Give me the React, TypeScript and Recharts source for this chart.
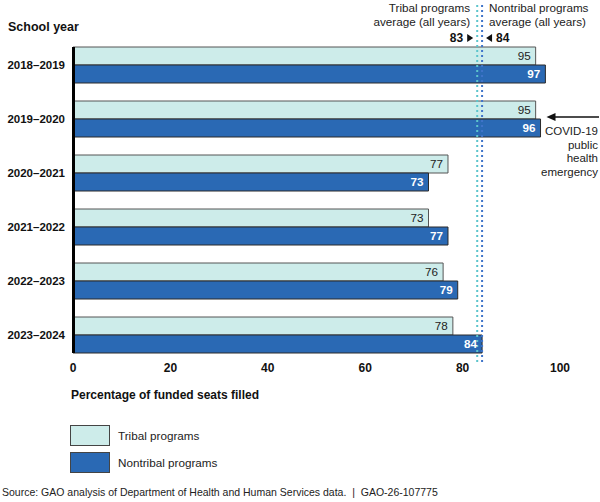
import React from 'react';
import { BarChart, Bar, XAxis, YAxis, ReferenceLine, LabelList } from 'recharts';

const years = ['2018–2019', '2019–2020', '2020–2021', '2021–2022', '2022–2023', '2023–2024'];
const tribal = [95, 95, 77, 73, 76, 78];
const nontribal = [97, 96, 73, 77, 79, 84];
const xTicks = [0, 20, 40, 60, 80, 100];
const tribalAvg = 83;
const nontribalAvg = 84;
const covidYear = '2019–2020';

const TRIBAL_FILL = '#cdecea';
const NONTRIBAL_FILL = '#2a69b4';
const TRIBAL_LINE = '#5cc5cc';
const NONTRIBAL_LINE = '#3f74c9';
const FONT = '"Liberation Sans", Arial, sans-serif';

const data = years.map((year, i) => ({ year, tribal: tribal[i], nontribal: nontribal[i] }));

const legendItems = [
  { name: 'Tribal programs', fill: TRIBAL_FILL },
  { name: 'Nontribal programs', fill: NONTRIBAL_FILL },
];

// category tick plus the black axis segment that runs from first bar top to last bar bottom
const YTick = (props: any) => {
  const { x, y, payload, index } = props;
  const half = 27;
  const bar = 18;
  const top = index === 0 ? y - bar : y - half;
  const bottom = index === years.length - 1 ? y + bar : y + half;
  return (
    <g>
      <line x1={x + 7.5} x2={x + 7.5} y1={top} y2={bottom} stroke="#000" strokeWidth={3} />
      <text x={x - 1} y={y} dy="0.35em" textAnchor="end" fontSize={11.5} fontWeight={700} fill="#111" fontFamily={FONT}>
        {payload.value}
      </text>
    </g>
  );
};

const XTick = (props: any) => {
  const { x, y, payload } = props;
  return (
    <text x={x} y={y} dy="0.71em" textAnchor="middle" fontSize={12} fontWeight={700} fill="#111" fontFamily={FONT}>
      {payload.value}
    </text>
  );
};

const TribalAvgLabel = (props: any) => {
  const { viewBox } = props;
  const x = viewBox.x;
  return (
    <g fontFamily={FONT} fontSize={11.7} fill="#222">
      <text x={x - 7} y={12} textAnchor="end">Tribal programs</text>
      <text x={x - 7} y={26} textAnchor="end">average (all years)</text>
      <text x={x - 14} y={42} textAnchor="end" fontWeight={700} fontSize={12} fill="#111">{tribalAvg}</text>
      <path d={`M${x - 10} ${34} L${x - 4} ${38} L${x - 10} ${42} Z`} fill="#111" />
    </g>
  );
};

const NontribalAvgLabel = (props: any) => {
  const { viewBox } = props;
  const x = viewBox.x;
  return (
    <g fontFamily={FONT} fontSize={11.7} fill="#222">
      <text x={x + 7} y={12}>Nontribal programs</text>
      <text x={x + 7} y={26}>average (all years)</text>
      <path d={`M${x + 10} ${34} L${x + 4} ${38} L${x + 10} ${42} Z`} fill="#111" />
      <text x={x + 14} y={42} fontWeight={700} fontSize={12} fill="#111">{nontribalAvg}</text>
    </g>
  );
};

const TribalValue = (props: any) => {
  const { x, y, width, height, value } = props;
  return (
    <text x={x + width - 5} y={y + height / 2} dy="0.36em" textAnchor="end" fontSize={11.7} fill="#222" fontFamily={FONT}>
      {value}
    </text>
  );
};

const NontribalValue = (props: any) => {
  const { x, y, width, height, value, index } = props;
  const endX = x + width;
  return (
    <g fontFamily={FONT}>
      <text x={endX - 5} y={y + height / 2} dy="0.36em" textAnchor="end" fontSize={11.7} fontWeight={700} fill="#fff">
        {value}
      </text>
      {years[index] === covidYear && (
        <g>
          <line x1={endX + 12} x2={599} y1={y - 2} y2={y - 2} stroke="#111" strokeWidth={1.5} />
          <path d={`M${endX + 6} ${y - 2} L${endX + 15} ${y - 6} L${endX + 15} ${y + 2} Z`} fill="#111" />
          <g fontSize={11.5} fill="#222" textAnchor="end">
            <text x={598} y={y + 16}>COVID-19</text>
            <text x={598} y={y + 30}>public</text>
            <text x={598} y={y + 43}>health</text>
            <text x={598} y={y + 57}>emergency</text>
          </g>
        </g>
      )}
    </g>
  );
};

export default function App() {
  return (
    <div style={{ position: 'relative', width: 600, height: 502, background: '#fff' }}>
      <style>{`body{margin:0}`}</style>
      <BarChart
        width={600}
        height={502}
        data={data}
        layout="vertical"
        margin={{ top: 5, right: 40, bottom: 110, left: 0 }}
        barCategoryGap={9}
        barGap={0}
      >
        <XAxis
          type="number"
          domain={[0, 100]}
          ticks={xTicks}
          axisLine={false}
          tickLine={false}
          tickSize={0}
          tickMargin={1}
          height={30}
          tick={<XTick />}
          label={{
            content: (p: any) => (
              <text x={71} y={p.viewBox.y + 37} fontSize={12} fontWeight={700} fill="#111" fontFamily={FONT}>
                Percentage of funded seats filled
              </text>
            ),
          }}
        />
        <YAxis
          type="category"
          dataKey="year"
          width={73}
          axisLine={false}
          tickLine={false}
          tickSize={0}
          tickMargin={7}
          padding={{ top: 33, bottom: 0 }}
          tick={<YTick />}
          label={{
            content: () => (
              <text x={8} y={31} fontSize={12.5} fontWeight={700} fill="#111" fontFamily={FONT}>
                School year
              </text>
            ),
          }}
        />
        <Bar dataKey="tribal" name="Tribal programs" fill={TRIBAL_FILL} stroke="#555" strokeWidth={1} isAnimationActive={false}>
          <LabelList dataKey="tribal" content={<TribalValue />} />
        </Bar>
        <Bar dataKey="nontribal" name="Nontribal programs" fill={NONTRIBAL_FILL} stroke="#2a2a2a" strokeWidth={1} isAnimationActive={false}>
          <LabelList dataKey="nontribal" content={<NontribalValue />} />
        </Bar>
        <ReferenceLine x={tribalAvg} stroke={TRIBAL_LINE} strokeWidth={2} strokeDasharray="2 3" label={<TribalAvgLabel />} />
        <ReferenceLine x={nontribalAvg} stroke={NONTRIBAL_LINE} strokeWidth={2} strokeDasharray="2 3" label={<NontribalAvgLabel />} />
      </BarChart>
      <div style={{ position: 'absolute', left: 70, top: 425, fontFamily: FONT, fontSize: 11.7, color: '#222' }}>
        {legendItems.map((item) => (
          <div key={item.name} style={{ display: 'flex', alignItems: 'center', height: 21, marginBottom: 6 }}>
            <span style={{ display: 'inline-block', width: 40, height: 21, background: item.fill, border: '1.5px solid #444', boxSizing: 'border-box', marginRight: 8 }} />
            <span>{item.name}</span>
          </div>
        ))}
      </div>
      <div style={{ position: 'absolute', left: 2, top: 486, fontFamily: FONT, fontSize: 10.5, color: '#222', whiteSpace: 'nowrap' }}>
        Source: GAO analysis of Department of Health and Human Services data.&nbsp; |&nbsp; GAO-26-107775
      </div>
    </div>
  );
}
